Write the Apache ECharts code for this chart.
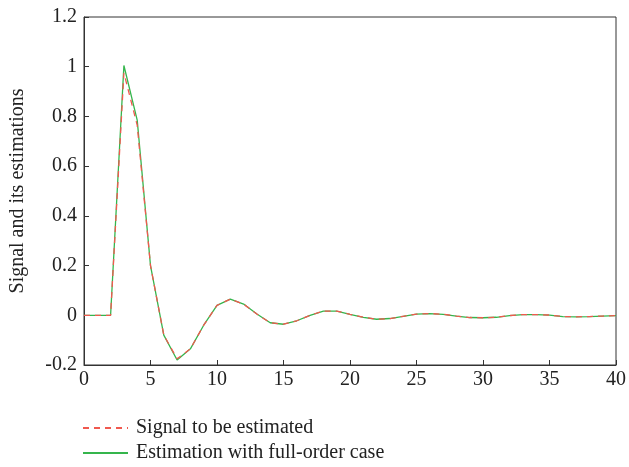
<!DOCTYPE html>
<html>
<head>
<meta charset="utf-8">
<script src="https://cdn.jsdelivr.net/npm/echarts@6/dist/echarts.min.js"></script>
<style>
  html, body { margin: 0; padding: 0; background: #fff; }
  #chart { width: 629px; height: 467px; }
</style>
</head>
<body>
<div id="chart"></div>
<script>
// samples k = 0..40
var steps = [];
for (var k = 0; k <= 40; k++) steps.push(k);

var signalValues = [0, 0, 0, 0.975, 0.765, 0.2, -0.08, -0.175, -0.135, -0.04,
    0.04, 0.065, 0.045, 0.005, -0.03, -0.036, -0.022, 0.0, 0.017, 0.017,
    0.004, -0.008, -0.016, -0.013, -0.004, 0.005, 0.007, 0.004, -0.003, -0.009,
    -0.01, -0.008, -0.001, 0.003, 0.003, 0.001, -0.005, -0.006, -0.005, -0.003,
    -0.001];
var estimateValues = [0, 0, 0, 1.005, 0.785, 0.2, -0.08, -0.18, -0.135, -0.04,
    0.04, 0.065, 0.045, 0.005, -0.03, -0.036, -0.022, 0.0, 0.017, 0.017,
    0.004, -0.008, -0.016, -0.013, -0.004, 0.005, 0.007, 0.004, -0.003, -0.009,
    -0.01, -0.008, -0.001, 0.003, 0.003, 0.001, -0.005, -0.006, -0.005, -0.003,
    -0.001];

var seriesNames = ['Signal to be estimated', 'Estimation with full-order case'];

function pairs(vals) {
    return vals.map(function (v, i) { return [steps[i], v]; });
}

var font = 'Liberation Serif';
var myChart = echarts.init(document.getElementById('chart'));

function legendBox(name, top) {
    return {
        show: true,
        orient: 'vertical',
        left: 82, top: top,
        padding: 0,
        itemWidth: 45, itemHeight: 12,
        itemStyle: { opacity: 0 },
        textStyle: { fontFamily: font, fontSize: 20, color: '#222', padding: [0, 0, 0, 3] },
        data: [name]
    };
}

var option = {
    animation: false,
    grid: {
        left: 82, right: 12, top: 17, bottom: 102,
        show: true, borderColor: '#333', borderWidth: 1
    },
    legend: [legendBox(seriesNames[0], 418), legendBox(seriesNames[1], 443)],
    xAxis: {
        type: 'value',
        min: 0, max: 40, interval: 5,
        axisLine: { onZero: false, lineStyle: { color: '#333' } },
        axisTick: { inside: true, length: 5, lineStyle: { color: '#333' } },
        axisLabel: { fontFamily: font, fontSize: 20, color: '#222', margin: 5 },
        splitLine: { show: false }
    },
    yAxis: {
        type: 'value',
        min: -0.2, max: 1.2, interval: 0.2,
        name: 'Signal and its estimations',
        nameLocation: 'middle',
        nameGap: 56,
        nameTextStyle: { fontFamily: font, fontSize: 20, color: '#222' },
        axisLine: { show: true, onZero: false, lineStyle: { color: '#333' } },
        axisTick: { show: true, inside: true, length: 5, lineStyle: { color: '#333' } },
        axisLabel: {
            fontFamily: font, fontSize: 20, color: '#222', margin: 7,
            formatter: function (v) { return String(Math.round(v * 10) / 10); }
        },
        splitLine: { show: false }
    },
    series: [
        {
            name: seriesNames[0],
            type: 'line',
            data: pairs(signalValues),
            symbol: 'none',
            lineStyle: { color: '#f0594f', width: 1.3, type: [6, 5] },
            itemStyle: { color: '#f0594f' },
            z: 3
        },
        {
            name: seriesNames[1],
            type: 'line',
            data: pairs(estimateValues),
            symbol: 'none',
            lineStyle: { color: '#35b54c', width: 1.3 },
            itemStyle: { color: '#35b54c' },
            z: 2
        }
    ]
};

myChart.setOption(option);
</script>
</body>
</html>
